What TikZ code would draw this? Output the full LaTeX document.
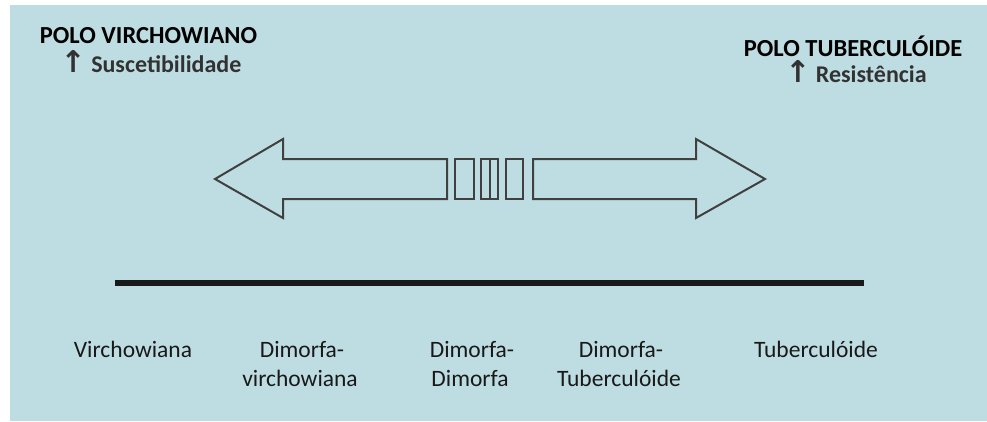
\documentclass[tikz,border=0pt]{standalone}
\usepackage{fontspec}
\setmainfont{Carlito}
\newfontfamily\symfont{DejaVu Sans}
\definecolor{bgc}{RGB}{190,221,226}
\definecolor{outl}{RGB}{64,64,64}
\definecolor{subtxt}{RGB}{50,50,50}
\newcommand{\uparr}{{\symfont\fontsize{30}{28}\selectfont ↑}}
\begin{document}
\begin{tikzpicture}[x=1pt,y=-1pt,
  title/.style={font=\fontsize{24.5}{28}\selectfont\bfseries, text=black, inner sep=0pt, anchor=base},
  subtitle/.style={font=\fontsize{24}{28}\selectfont\bfseries, text=subtxt, inner sep=0pt, anchor=base},
  label/.style={font=\fontsize{23.5}{28}\selectfont, text=black!90, inner sep=0pt, anchor=base},
  shape outline/.style={draw=outl, line width=2pt, line join=miter},
  scale line/.style={draw=black!90, line width=5.5pt}]
\useasboundingbox (0,0) rectangle (987,421);
\fill[bgc] (10,5) rectangle (987,421);
% titles
\node[title] (tl) at (148.5,43) {POLO VIRCHOWIANO};
\node[subtitle] (sl) at (151,72) {\uparr{} Suscetibilidade};
\node[title] (tr) at (853,56) {POLO TUBERCULÓIDE};
\node[subtitle] (sr) at (856,82) {\uparr{} Resistência};
% double arrow
\path[shape outline] (447,159) -- (283,159) -- (283,139) -- (215,179) -- (283,218) -- (283,199) -- (447,199) -- cycle;
\path[shape outline] (455,159) rectangle (474,199);
\path[shape outline] (481,159) rectangle (498,199);
\path[shape outline] (489.5,159) -- (489.5,199);
\path[shape outline] (506,159) rectangle (523,199);
\path[shape outline] (533,159) -- (696,159) -- (696,139) -- (765,179) -- (696,218) -- (696,199) -- (533,199) -- cycle;
% scale line
\coordinate (la) at (115,283);
\coordinate (lb) at (864,283);
\draw[scale line] (la) -- (lb);
% labels
\node[label] (v) at (133,357) {Virchowiana};
\node[label] (dv1) at (302,357) {Dimorfa-};
\node[label] (dv2) at (300,386) {virchowiana};
\node[label] (dd1) at (472,357) {Dimorfa-};
\node[label] (dd2) at (470,386) {Dimorfa};
\node[label] (dt1) at (621,357) {Dimorfa-};
\node[label] (dt2) at (619,386) {Tuberculóide};
\node[label] (t) at (816,357) {Tuberculóide};
\end{tikzpicture}
\end{document}
